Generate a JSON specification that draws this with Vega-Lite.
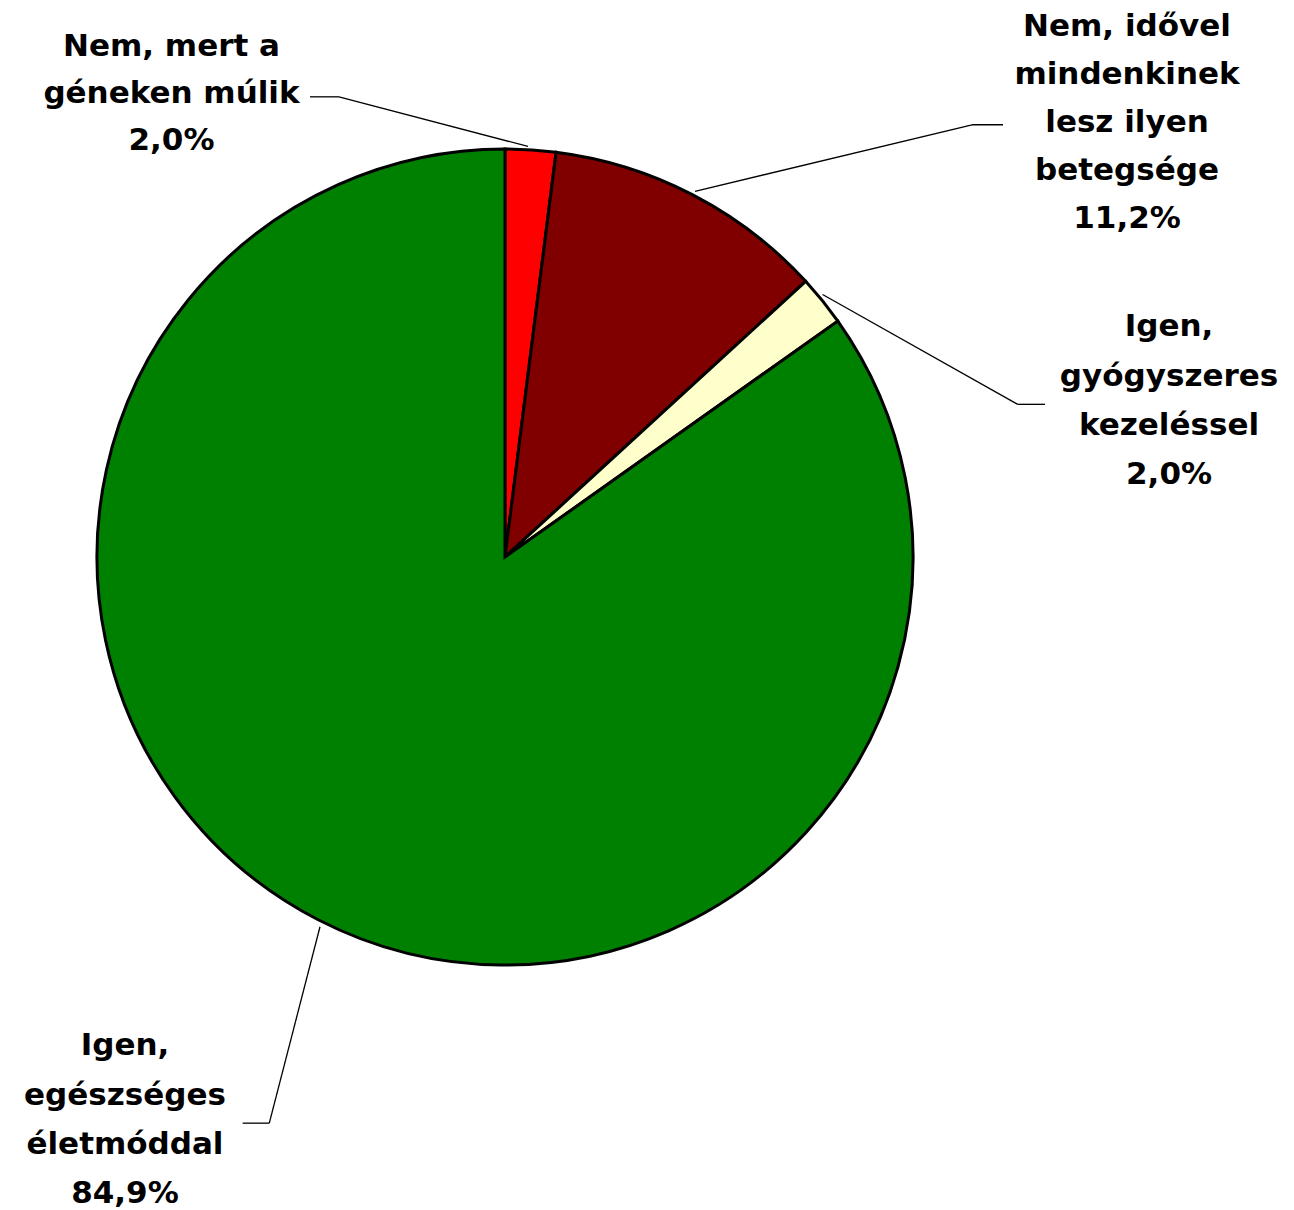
{
  "$schema": "https://vega.github.io/schema/vega-lite/v6.json",
  "width": 1294,
  "height": 1210,
  "autosize": {"type": "fit", "contains": "padding"},
  "padding": 0,
  "background": "white",
  "config": {
    "view": {"stroke": null},
    "locale": {"number": {"decimal": ",", "thousands": " ", "grouping": [3], "currency": ["", " Ft"]}},
    "text": {"font": "DejaVu Sans", "fontWeight": "bold", "fontSize": 31, "color": "black", "align": "center", "baseline": "top", "lineBreak": "\n"}
  },
  "data": {
    "values": [
      {"sorszam": 1, "kategoria": "Nem, mert a géneken múlik", "felirat": "Nem, mert a\ngéneken múlik", "arany": 0.020},
      {"sorszam": 2, "kategoria": "Nem, idővel mindenkinek lesz ilyen betegsége", "felirat": "Nem, idővel\nmindenkinek\nlesz ilyen\nbetegsége", "arany": 0.112},
      {"sorszam": 3, "kategoria": "Igen, gyógyszeres kezeléssel", "felirat": "Igen,\ngyógyszeres\nkezeléssel", "arany": 0.020},
      {"sorszam": 4, "kategoria": "Igen, egészséges életmóddal", "felirat": "Igen,\negészséges\néletmóddal", "arany": 0.849}
    ]
  },
  "layer": [
    {
      "mark": {"type": "arc", "outerRadius": 408, "stroke": "black", "strokeWidth": 3},
      "encoding": {
        "x": {"datum": 0, "type": "quantitative", "scale": {"domain": [-1.2377, 1.9338], "nice": false, "zero": false}, "axis": null},
        "y": {"datum": 0, "type": "quantitative", "scale": {"domain": [-1.598, 1.3676], "nice": false, "zero": false}, "axis": null},
        "theta": {"field": "arany", "type": "quantitative", "stack": true},
        "order": {"field": "sorszam", "type": "quantitative"},
        "color": {"field": "kategoria", "type": "nominal", "legend": null,
          "scale": {"domain": ["Nem, mert a géneken múlik", "Nem, idővel mindenkinek lesz ilyen betegsége", "Igen, gyógyszeres kezeléssel", "Igen, egészséges életmóddal"],
                    "range": ["#FF0000", "#800000", "#FFFFCC", "#008000"]}}
      }
    },
    {
      "transform": [{"filter": "datum.sorszam === 1"}],
      "mark": {"type": "rule", "color": "black", "strokeWidth": 1.3},
      "encoding": {
        "x": {"datum": -0.4069, "type": "quantitative", "scale": {"domain": [-1.2377, 1.9338], "nice": false, "zero": false}},
        "y": {"datum": 1.1299, "type": "quantitative", "scale": {"domain": [-1.598, 1.3676], "nice": false, "zero": false}},
        "x2": {"datum": 0.0564},
        "y2": {"datum": 1.0081}
      }
    },
    {
      "transform": [{"filter": "datum.sorszam === 1"}],
      "mark": {"type": "rule", "color": "black", "strokeWidth": 1.3},
      "encoding": {
        "x": {"datum": -0.4779, "type": "quantitative", "scale": {"domain": [-1.2377, 1.9338], "nice": false, "zero": false}},
        "y": {"datum": 1.1299, "type": "quantitative", "scale": {"domain": [-1.598, 1.3676], "nice": false, "zero": false}},
        "x2": {"datum": -0.4069},
        "y2": {"datum": 1.1299}
      }
    },
    {
      "transform": [{"filter": "datum.sorszam === 2"}],
      "mark": {"type": "rule", "color": "black", "strokeWidth": 1.3},
      "encoding": {
        "x": {"datum": 0.4657, "type": "quantitative", "scale": {"domain": [-1.2377, 1.9338], "nice": false, "zero": false}},
        "y": {"datum": 0.8978, "type": "quantitative", "scale": {"domain": [-1.598, 1.3676], "nice": false, "zero": false}},
        "x2": {"datum": 1.1446},
        "y2": {"datum": 1.0613}
      }
    },
    {
      "transform": [{"filter": "datum.sorszam === 2"}],
      "mark": {"type": "rule", "color": "black", "strokeWidth": 1.3},
      "encoding": {
        "x": {"datum": 1.1446, "type": "quantitative", "scale": {"domain": [-1.2377, 1.9338], "nice": false, "zero": false}},
        "y": {"datum": 1.0613, "type": "quantitative", "scale": {"domain": [-1.598, 1.3676], "nice": false, "zero": false}},
        "x2": {"datum": 1.2206},
        "y2": {"datum": 1.0613}
      }
    },
    {
      "transform": [{"filter": "datum.sorszam === 3"}],
      "mark": {"type": "rule", "color": "black", "strokeWidth": 1.3},
      "encoding": {
        "x": {"datum": 0.7784, "type": "quantitative", "scale": {"domain": [-1.2377, 1.9338], "nice": false, "zero": false}},
        "y": {"datum": 0.6446, "type": "quantitative", "scale": {"domain": [-1.598, 1.3676], "nice": false, "zero": false}},
        "x2": {"datum": 1.2566},
        "y2": {"datum": 0.375}
      }
    },
    {
      "transform": [{"filter": "datum.sorszam === 3"}],
      "mark": {"type": "rule", "color": "black", "strokeWidth": 1.3},
      "encoding": {
        "x": {"datum": 1.2566, "type": "quantitative", "scale": {"domain": [-1.2377, 1.9338], "nice": false, "zero": false}},
        "y": {"datum": 0.375, "type": "quantitative", "scale": {"domain": [-1.598, 1.3676], "nice": false, "zero": false}},
        "x2": {"datum": 1.3235},
        "y2": {"datum": 0.375}
      }
    },
    {
      "transform": [{"filter": "datum.sorszam === 4"}],
      "mark": {"type": "rule", "color": "black", "strokeWidth": 1.3},
      "encoding": {
        "x": {"datum": -0.4534, "type": "quantitative", "scale": {"domain": [-1.2377, 1.9338], "nice": false, "zero": false}},
        "y": {"datum": -0.9076, "type": "quantitative", "scale": {"domain": [-1.598, 1.3676], "nice": false, "zero": false}},
        "x2": {"datum": -0.5777},
        "y2": {"datum": -1.3897}
      }
    },
    {
      "transform": [{"filter": "datum.sorszam === 4"}],
      "mark": {"type": "rule", "color": "black", "strokeWidth": 1.3},
      "encoding": {
        "x": {"datum": -0.6429, "type": "quantitative", "scale": {"domain": [-1.2377, 1.9338], "nice": false, "zero": false}},
        "y": {"datum": -1.3897, "type": "quantitative", "scale": {"domain": [-1.598, 1.3676], "nice": false, "zero": false}},
        "x2": {"datum": -0.5777},
        "y2": {"datum": -1.3897}
      }
    },
    {
      "transform": [{"filter": "datum.sorszam === 1"}],
      "mark": {"type": "text", "lineHeight": 47},
      "encoding": {
        "x": {"datum": -0.8174, "type": "quantitative", "scale": {"domain": [-1.2377, 1.9338], "nice": false, "zero": false}},
        "y": {"datum": 1.2892, "type": "quantitative", "scale": {"domain": [-1.598, 1.3676], "nice": false, "zero": false}},
        "text": {"field": "felirat", "type": "nominal"}
      }
    },
    {
      "transform": [{"filter": "datum.sorszam === 1"}],
      "mark": {"type": "text"},
      "encoding": {
        "x": {"datum": -0.8174, "type": "quantitative", "scale": {"domain": [-1.2377, 1.9338], "nice": false, "zero": false}},
        "y": {"datum": 1.0588, "type": "quantitative", "scale": {"domain": [-1.598, 1.3676], "nice": false, "zero": false}},
        "text": {"field": "arany", "type": "quantitative", "format": ".1%"}
      }
    },
    {
      "transform": [{"filter": "datum.sorszam === 2"}],
      "mark": {"type": "text", "lineHeight": 48},
      "encoding": {
        "x": {"datum": 1.5245, "type": "quantitative", "scale": {"domain": [-1.2377, 1.9338], "nice": false, "zero": false}},
        "y": {"datum": 1.3382, "type": "quantitative", "scale": {"domain": [-1.598, 1.3676], "nice": false, "zero": false}},
        "text": {"field": "felirat", "type": "nominal"}
      }
    },
    {
      "transform": [{"filter": "datum.sorszam === 2"}],
      "mark": {"type": "text"},
      "encoding": {
        "x": {"datum": 1.5245, "type": "quantitative", "scale": {"domain": [-1.2377, 1.9338], "nice": false, "zero": false}},
        "y": {"datum": 0.8676, "type": "quantitative", "scale": {"domain": [-1.598, 1.3676], "nice": false, "zero": false}},
        "text": {"field": "arany", "type": "quantitative", "format": ".1%"}
      }
    },
    {
      "transform": [{"filter": "datum.sorszam === 3"}],
      "mark": {"type": "text", "lineHeight": 49.4},
      "encoding": {
        "x": {"datum": 1.6275, "type": "quantitative", "scale": {"domain": [-1.2377, 1.9338], "nice": false, "zero": false}},
        "y": {"datum": 0.6012, "type": "quantitative", "scale": {"domain": [-1.598, 1.3676], "nice": false, "zero": false}},
        "text": {"field": "felirat", "type": "nominal"}
      }
    },
    {
      "transform": [{"filter": "datum.sorszam === 3"}],
      "mark": {"type": "text"},
      "encoding": {
        "x": {"datum": 1.6275, "type": "quantitative", "scale": {"domain": [-1.2377, 1.9338], "nice": false, "zero": false}},
        "y": {"datum": 0.2377, "type": "quantitative", "scale": {"domain": [-1.598, 1.3676], "nice": false, "zero": false}},
        "text": {"field": "arany", "type": "quantitative", "format": ".1%"}
      }
    },
    {
      "transform": [{"filter": "datum.sorszam === 4"}],
      "mark": {"type": "text", "lineHeight": 49.3},
      "encoding": {
        "x": {"datum": -0.9314, "type": "quantitative", "scale": {"domain": [-1.2377, 1.9338], "nice": false, "zero": false}},
        "y": {"datum": -1.1642, "type": "quantitative", "scale": {"domain": [-1.598, 1.3676], "nice": false, "zero": false}},
        "text": {"field": "felirat", "type": "nominal"}
      }
    },
    {
      "transform": [{"filter": "datum.sorszam === 4"}],
      "mark": {"type": "text"},
      "encoding": {
        "x": {"datum": -0.9314, "type": "quantitative", "scale": {"domain": [-1.2377, 1.9338], "nice": false, "zero": false}},
        "y": {"datum": -1.527, "type": "quantitative", "scale": {"domain": [-1.598, 1.3676], "nice": false, "zero": false}},
        "text": {"field": "arany", "type": "quantitative", "format": ".1%"}
      }
    }
  ]
}
